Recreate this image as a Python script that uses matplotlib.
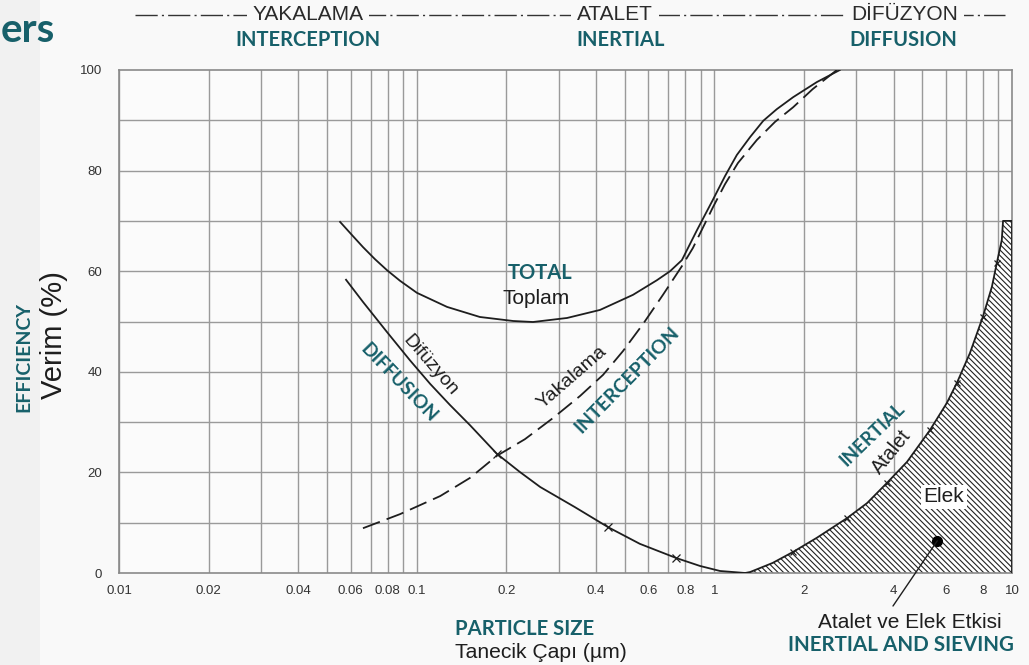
import numpy as np
import matplotlib.pyplot as plt
from matplotlib.lines import Line2D
from matplotlib.patches import Rectangle

W, H = 1029, 665
TEAL = '#17606a'
INK = '#1e1e1e'

# particle size (um) / efficiency (%) readings for each mechanism
total_x = [0.0553, 0.0606, 0.066, 0.0724, 0.0795, 0.0879, 0.1002, 0.1265, 0.163, 0.211,
           0.246, 0.320, 0.413, 0.533, 0.641, 0.710, 0.778, 0.875, 0.989, 1.086,
           1.19, 1.32, 1.46, 1.62, 1.84, 2.21, 2.64]
total_y = [69.8, 67.2, 64.8, 62.4, 60.2, 58.1, 55.7, 52.9, 50.9, 50.1,
           49.9, 50.7, 52.3, 55.3, 58.2, 60.0, 62.2, 68.2, 74.2, 78.9,
           83.1, 86.7, 89.9, 92.2, 94.6, 97.6, 100]

diff_x = [0.0579, 0.066, 0.0795, 0.0949, 0.111, 0.1294, 0.151, 0.186, 0.222, 0.260,
          0.340, 0.440, 0.562, 0.743, 0.895, 1.045, 1.27]
diff_y = [58.3, 53.9, 47.9, 42.3, 37.6, 33.4, 29.4, 23.7, 20.1, 17.1,
          13.1, 9.1, 5.8, 3.0, 1.4, 0.4, 0]
diff_mark_x = [0.186, 0.44, 0.743]
diff_mark_y = [23.7, 9.1, 3.0]

inter_x = [0.066, 0.0879, 0.120, 0.151, 0.186, 0.231, 0.287, 0.354, 0.423, 0.493,
           0.576, 0.672, 0.778, 0.847, 0.989, 1.086, 1.20, 1.39, 1.60, 1.84,
           2.14, 2.58]
inter_y = [8.9, 11.7, 15.3, 18.9, 23.3, 26.6, 30.8, 35.2, 39.4, 44.1,
           49.5, 55.3, 61.0, 64.6, 72.7, 77.3, 81.5, 86.1, 89.7, 92.6,
           96.2, 100]

inert_x = [1.27, 1.32, 1.57, 1.84, 2.21, 2.79, 3.26, 3.80, 4.44, 5.30, 6.04, 6.53,
           7.22, 7.98, 8.56, 8.89, 9.24, 9.33, 10.0]
inert_y = [0, 0.2, 2.0, 4.2, 7.0, 10.9, 13.9, 17.9, 22.1, 28.4, 33.8, 37.8,
           43.7, 50.9, 56.9, 61.6, 66.2, 70, 70]
inert_mark_x = [1.84, 2.79, 3.80, 5.30, 6.53, 7.98, 8.89]
inert_mark_y = [4.2, 10.9, 17.9, 28.4, 37.8, 50.9, 61.6]

sieve_x, sieve_y = 5.61, 6.4

x_ticks = [0.01, 0.02, 0.04, 0.06, 0.08, 0.1, 0.2, 0.4, 0.6, 0.8, 1, 2, 4, 6, 8, 10]
x_labels = ['0.01', '0.02', '0.04', '0.06', '0.08', '0.1', '0.2', '0.4', '0.6', '0.8',
            '1', '2', '4', '6', '8', '10']
y_ticks = [0, 20, 40, 60, 80, 100]

plt.rcParams['font.family'] = ['Liberation Sans', 'DejaVu Sans']
plt.rcParams['hatch.linewidth'] = 0.8

fig = plt.figure(figsize=(W / 100, H / 100), dpi=100, facecolor='#f9f9f9')
fig.add_artist(Rectangle((0, 0), 40 / W, 1, transform=fig.transFigure,
                         facecolor='#f1f1f1', edgecolor='none', zorder=0))


def fx(px):
    return px / W


def fy(py):
    return 1 - py / H


ax = fig.add_axes([fx(119), fy(573), fx(1012) - fx(119), fy(70) - fy(573)])
ax.set_facecolor('#fbfbfb')
ax.set_xscale('log')
ax.set_xlim(0.01, 10)
ax.set_ylim(0, 100)

# log grid: every 1..9 in each decade, every 10 % in efficiency
for dec in [0.01, 0.1, 1]:
    for k in range(1, 10):
        ax.axvline(dec * k, color='#9a9a9a', lw=1.0, zorder=1)
for yv in range(10, 100, 10):
    ax.axhline(yv, color='#9a9a9a', lw=1.0, zorder=1)

for s in ax.spines.values():
    s.set_color('#8a8a8a')
    s.set_linewidth(1.2)

ax.set_xticks(x_ticks)
ax.set_xticklabels(x_labels)
ax.xaxis.set_minor_locator(plt.NullLocator())
ax.set_yticks(y_ticks)
ax.tick_params(length=0, labelsize=9.5, colors='#333333')
ax.tick_params(axis='x', pad=9)
ax.tick_params(axis='y', pad=12)

# inertia + sieving zone
fill_x = inert_x + [10.0]
fill_y = inert_y + [0]
ax.fill(fill_x, fill_y, facecolor='white', edgecolor='none', zorder=2)
ax.fill(fill_x, fill_y, facecolor='none', edgecolor='#222222',
        hatch='\\\\\\\\\\\\', linewidth=0, zorder=2.5)
ax.plot(inert_x + [10.0], inert_y + [0], color=INK, lw=1.3, zorder=4)
ax.plot(inert_mark_x, inert_mark_y, ls='none', marker='x', ms=5, mew=0.9,
        color=INK, zorder=4)

ax.plot(total_x, total_y, color=INK, lw=1.3, zorder=4)
ax.plot(diff_x, diff_y, color=INK, lw=1.3, zorder=4)
ax.plot(diff_mark_x, diff_mark_y, ls='none', marker='x', ms=6, mew=0.9,
        color=INK, zorder=4)
ln, = ax.plot(inter_x, inter_y, color=INK, lw=1.3, zorder=4)
ln.set_dashes([10, 4])

ax.plot([sieve_x], [sieve_y], marker='o', ms=7, color='black', zorder=5)
ax.annotate('', xy=(sieve_x, sieve_y), xytext=(893, H - 606),
            textcoords='figure pixels',
            arrowprops=dict(arrowstyle='-', color=INK, lw=1.0,
                            shrinkA=0, shrinkB=0), zorder=5)

# curve labels
txt = dict(ha='center', va='center', zorder=6)
fig.text(fx(540), fy(273), 'TOTAL', color=TEAL, fontsize=14.5, fontweight='bold',
         family='Lato', **txt)
fig.text(fx(536), fy(299), 'Toplam', color=INK, fontsize=15, **txt)
fig.text(fx(430), fy(365), 'Difüzyon', color=INK, fontsize=13.8, rotation=-49, **txt)
fig.text(fx(399), fy(383), 'DIFFUSION', color=TEAL, fontsize=13.7, fontweight='bold',
         family='Lato', rotation=-46, **txt)
fig.text(fx(572), fy(377), 'Yakalama', color=INK, fontsize=14, rotation=41, **txt)
fig.text(fx(627), fy(380), 'INTERCEPTION', color=TEAL, fontsize=14, fontweight='bold',
         family='Lato', rotation=45.5, **txt)
fig.text(fx(872), fy(434), 'INERTIAL', color=TEAL, fontsize=13.6, fontweight='bold',
         family='Lato', rotation=44, **txt)
fig.text(fx(892), fy(452), 'Atalet', color=INK, fontsize=14.2, rotation=51, **txt)
fig.text(fx(944), fy(497), 'Elek', color=INK, fontsize=15,
         bbox=dict(facecolor='white', edgecolor='none', pad=2), **txt)
fig.text(fx(910), fy(622), 'Atalet ve Elek Etkisi', color=INK, fontsize=15, **txt)
fig.text(fx(901), fy(645), 'INERTIAL AND SIEVING', color=TEAL, fontsize=14.9,
         fontweight='bold', family='Lato', **txt)

# axis titles
fig.text(fx(525), fy(629), 'PARTICLE SIZE', color=TEAL, fontsize=14.6,
         fontweight='bold', family='Lato', **txt)
fig.text(fx(541), fy(652), 'Tanecik Çapı (µm)', color=INK, fontsize=15.2, **txt)
fig.text(fx(54), fy(335), 'Verim (%)', color=INK, fontsize=21, rotation=90, **txt)
fig.text(fx(24), fy(357), 'EFFICIENCY', color=TEAL, fontsize=14,
         fontweight='bold', family='Lato', rotation=90, **txt)
fig.text(fx(1), fy(31), 'ers', color=TEAL, fontsize=29, fontweight='bold',
         family='Lato', ha='left', va='center')

# mechanism band along the top
fig.add_artist(Line2D([fx(135), fx(1005)], [fy(15), fy(15)], transform=fig.transFigure,
                      color='#333333', lw=1.0, ls=(0, (16, 3, 1.5, 3))))
band = dict(ha='center', va='center', color='#2a2a2a', fontsize=15,
            bbox=dict(facecolor='#f9f9f9', edgecolor='none', pad=4))
fig.text(fx(308), fy(15), 'YAKALAMA', **band)
fig.text(fx(615), fy(15), 'ATALET', **band)
fig.text(fx(905), fy(15), 'DİFÜZYON', **band)
for px, lab in [(308, 'INTERCEPTION'), (621, 'INERTIAL'), (903, 'DIFFUSION')]:
    fig.text(fx(px), fy(40), lab, color=TEAL, fontsize=14.5, fontweight='bold',
             family='Lato', ha='center', va='center')

fig.savefig('out.png', dpi=100, facecolor=fig.get_facecolor())
